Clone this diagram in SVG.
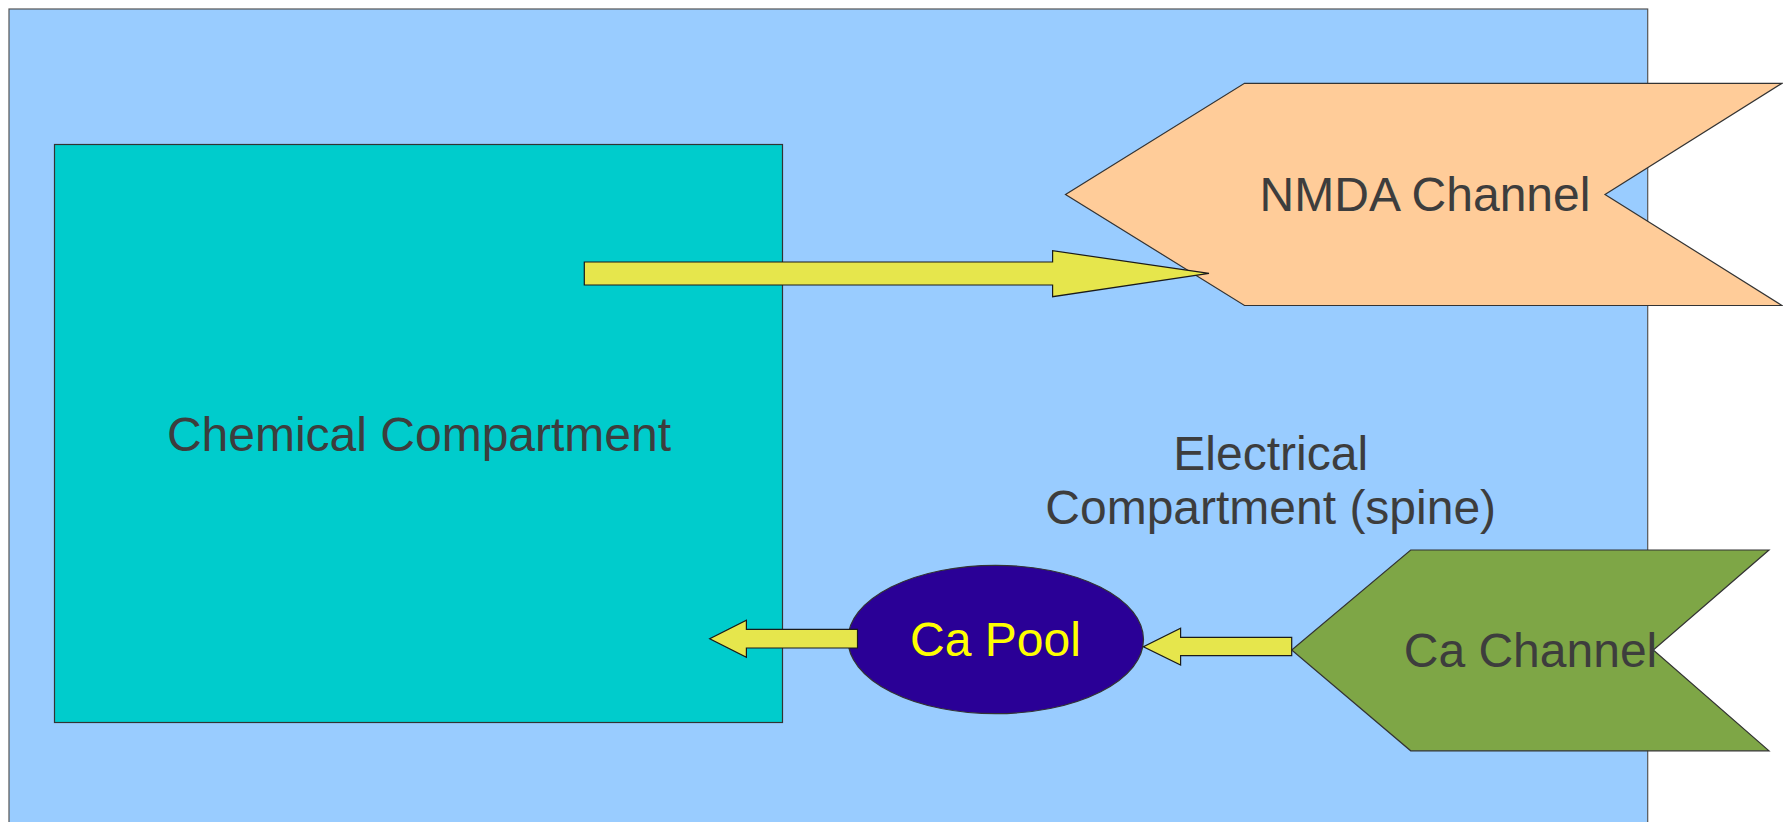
<svg xmlns="http://www.w3.org/2000/svg" width="1783" height="822" viewBox="0 0 1783 822">
<style>
.lbl{font-family:"Liberation Sans",Arial,sans-serif;font-size:48px;fill:#3d3d3d;text-anchor:middle}
.arrow{fill:#e6e64c;stroke:#1a1a1a;stroke-width:1.2;stroke-linejoin:miter}
.shape{stroke:#333;stroke-width:1.2}
</style>
<rect width="1783" height="822" fill="#ffffff"/>
<g id="electrical">
<rect x="9" y="9" width="1638.7" height="830" fill="#99ccff" stroke="#555" stroke-width="1.2"/>
<text class="lbl" x="1270.7" y="470">Electrical</text>
<text class="lbl" x="1270.7" y="523.5">Compartment (spine)</text>
</g>
<g id="chemical">
<rect x="54.5" y="144.5" width="728" height="578" fill="#00cccc" class="shape"/>
<text class="lbl" x="419" y="451">Chemical Compartment</text>
</g>
<g id="nmda">
<polygon points="1244.5,83.3 1782,83.3 1605,194.4 1782,305.5 1244.5,305.5 1065.5,194.4" fill="#ffcc99" class="shape"/>
<text class="lbl" x="1425" y="210.7">NMDA Channel</text>
</g>
<g id="cachannel">
<polygon points="1410.7,550 1769,550 1653.3,650 1769,750.8 1410.7,750.8 1291.7,650" fill="#7ea646" class="shape"/>
<text class="lbl" x="1530.5" y="666.7">Ca Channel</text>
</g>
<g id="capool">
<ellipse cx="995.7" cy="639.5" rx="147.8" ry="74.2" fill="#2a0096" class="shape"/>
<text class="lbl" x="995.5" y="656" style="fill:#ffff00">Ca Pool</text>
</g>
<g id="connectors">
<polygon class="arrow" points="584.3,262 1052.6,262 1052.6,250.7 1209,273.3 1052.6,296.7 1052.6,285 584.3,285"/>
<polygon class="arrow" points="857.5,629.3 746.4,629.3 746.4,620.3 709.7,638.7 746.4,657.3 746.4,648 857.5,648"/>
<polygon class="arrow" points="1291.7,637.3 1180.6,637.3 1180.6,628.3 1143.4,646.7 1180.6,665 1180.6,655.7 1291.7,655.7"/>
</g>
</svg>
